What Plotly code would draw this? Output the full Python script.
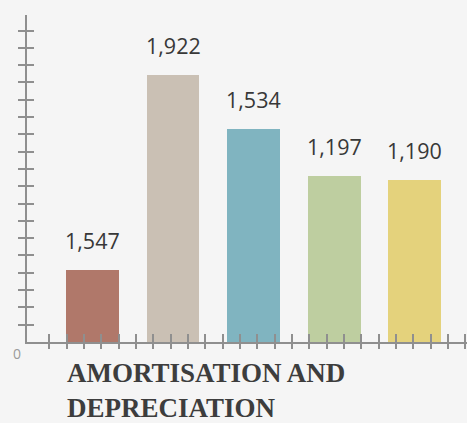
import plotly.graph_objects as go

# ---- data ----
categories = [0, 1, 2, 3, 4]
bar_values = [520, 1922, 1534, 1196, 1167]          # bar heights as drawn
label_texts = ["1,547", "1,922", "1,534", "1,197", "1,190"]
bar_colors = ["#B0786A", "#CAC0B4", "#80B4C0", "#BECEA0", "#E4D27C"]
title_text = "AMORTISATION AND<br>DEPRECIATION"

# ---- geometry ----
W, H = 467, 423
ML, MR, MT, MB = 27, 0, 15, 81
YMAX = 2351
X0, X1 = -0.8137, 4.652
axis_col = "#8f8f8f"

y_step = 124.4
ytick_vals = [y_step * k for k in range(1, 19)]
x_step = 0.2153
xtick_vals = [-0.537 + x_step * k for k in range(25)]

fig = go.Figure()
fig.add_trace(go.Bar(
    x=categories, y=bar_values, width=0.658,
    marker=dict(color=bar_colors, line=dict(width=0)),
    hoverinfo="skip", showlegend=False,
))

for xv, yv, t in zip(categories, bar_values, label_texts):
    fig.add_annotation(x=xv, y=yv, text=t, showarrow=False,
                       xanchor="center", yanchor="bottom", yshift=13,
                       font=dict(family="Open Sans", size=21.5, color="#383838"))

fig.add_annotation(xref="paper", yref="paper", x=(65 - ML) / (W - ML - MR),
                   y=-(356 - (H - MB)) / (H - MT - MB),
                   text=title_text, showarrow=False, align="left",
                   xanchor="left", yanchor="top",
                   font=dict(family="Liberation Serif", size=27, color="#3d3d3d",
                             weight="bold"))

fig.add_annotation(xref="paper", yref="paper", x=-(ML - 16.5) / (W - ML - MR),
                   y=-(353.5 - (H - MB)) / (H - MT - MB),
                   text="0", showarrow=False, xanchor="center", yanchor="middle",
                   font=dict(family="Open Sans", size=14, color="#9a9a9a"))

common_x = dict(range=[X0, X1], showgrid=False, zeroline=False, showline=True,
                linecolor=axis_col, linewidth=1.5, tickmode="array",
                tickvals=xtick_vals, showticklabels=False,
                tickcolor=axis_col, tickwidth=1.5, fixedrange=True)
common_y = dict(range=[0, YMAX], showgrid=False, zeroline=False, showline=True,
                linecolor=axis_col, linewidth=1.5, tickmode="array",
                tickvals=ytick_vals, showticklabels=False,
                tickcolor=axis_col, tickwidth=1.5, fixedrange=True)

fig.update_layout(
    width=W, height=H,
    margin=dict(l=ML, r=MR, t=MT, b=MB, pad=0),
    paper_bgcolor="#F5F5F5", plot_bgcolor="#F5F5F5",
    bargap=0,
    xaxis=dict(**common_x, ticks="inside", ticklen=8),
    yaxis=dict(**common_y, ticks="outside", ticklen=7),
    xaxis2=dict(**common_x, ticks="outside", ticklen=5, overlaying="x",
                anchor="y", side="bottom"),
    yaxis2=dict(**common_y, ticks="inside", ticklen=7, overlaying="y",
                anchor="x", side="left"),
)
fig.add_trace(go.Scatter(x=[None], y=[None], xaxis="x2", yaxis="y2",
                         showlegend=False, hoverinfo="skip"))

fig.write_html(
    "out.html",
    config={"displayModeBar": False},
    post_script="document.body.style.margin='0';document.body.style.padding='0';"
                "document.body.style.background='#F5F5F5';"
                "document.body.style.overflow='hidden';",
)
